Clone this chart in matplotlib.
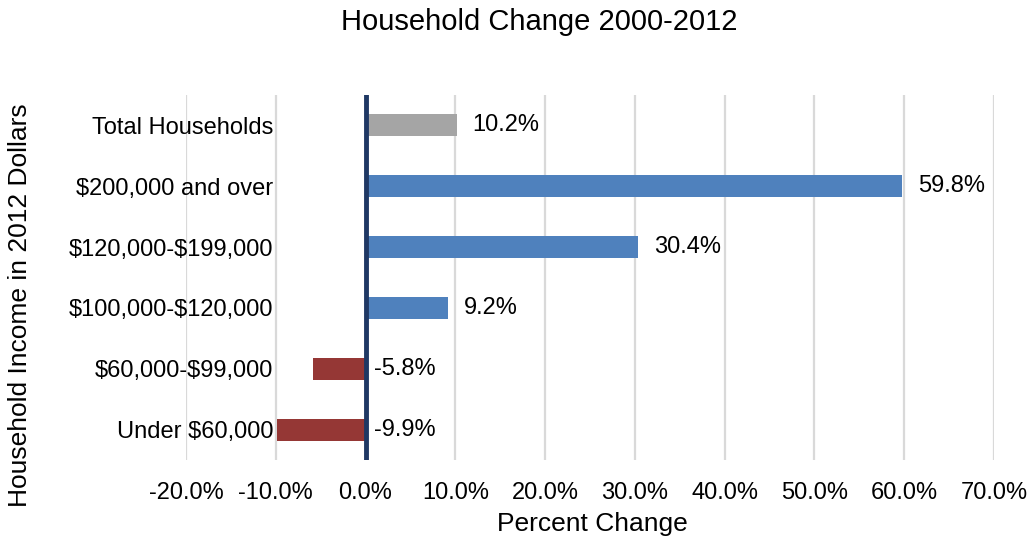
"""Household change 2000-2012 by income bracket (horizontal bar chart)."""

import numpy as np
import matplotlib
matplotlib.use("Agg")
import matplotlib.pyplot as plt

plt.rcParams["font.family"] = ["Liberation Sans", "DejaVu Sans"]
plt.rcParams["text.parse_math"] = False  # labels contain "$"

# data, bottom to top
categories = ["Under $60,000", "$60,000-$99,000", "$100,000-$120,000",
              "$120,000-$199,000", "$200,000 and over", "Total Households"]
pct_change = [-9.9, -5.8, 9.2, 30.4, 59.8, 10.2]
bar_colors = ["#953735", "#953735", "#4F81BD", "#4F81BD", "#4F81BD", "#A5A5A5"]
x_ticks = [-20, -10, 0, 10, 20, 30, 40, 50, 60, 70]

fig = plt.figure(figsize=(10.32, 5.42), dpi=100)
ax = fig.add_axes([186 / 1032, 1 - 460 / 542, (994 - 186) / 1032, (460 - 95) / 542])

y_idx = np.arange(len(categories))
ax.barh(y_idx, pct_change, height=0.36, color=bar_colors, zorder=3)

# value labels
for y, v in zip(y_idx, pct_change):
    if v >= 0:
        ax.annotate(f"{v:.1f}%", (v, y), xytext=(11, 0), textcoords="offset points",
                    ha="left", va="center", fontsize=17, color="#000000")
    else:
        ax.annotate(f"{v:.1f}%", (0, y), xytext=(6, 0), textcoords="offset points",
                    ha="left", va="center", fontsize=17, color="#000000")

ax.axvline(0, color="#1F3864", linewidth=3.5, zorder=4)

ax.set_xlim(-20, 70)
ax.set_ylim(-0.5, 5.5)
ax.set_xticks(x_ticks)
ax.set_xticklabels([f"{t:.1f}%" for t in x_ticks], fontsize=17)
ax.set_yticks(y_idx)
ax.set_yticklabels(categories, fontsize=17)
ax.tick_params(axis="y", length=0, pad=-63)
ax.tick_params(axis="x", length=0, pad=16)
ax.grid(axis="x", color="#D9D9D9", linewidth=1.6, zorder=0)
ax.set_axisbelow(True)
for s in ax.spines.values():
    s.set_visible(False)

fig.text(539 / 1032, 1 - 22 / 542, "Household Change 2000-2012",
         ha="center", va="center", fontsize=21)
fig.text(592 / 1032, 1 - 524 / 542, "Percent Change",
         ha="center", va="center", fontsize=19)
fig.text(20 / 1032, 1 - 305 / 542, "Household Income in 2012 Dollars",
         ha="center", va="center", rotation=90, fontsize=19)

fig.savefig("out.png", dpi=100, facecolor="white")
plt.close(fig)
